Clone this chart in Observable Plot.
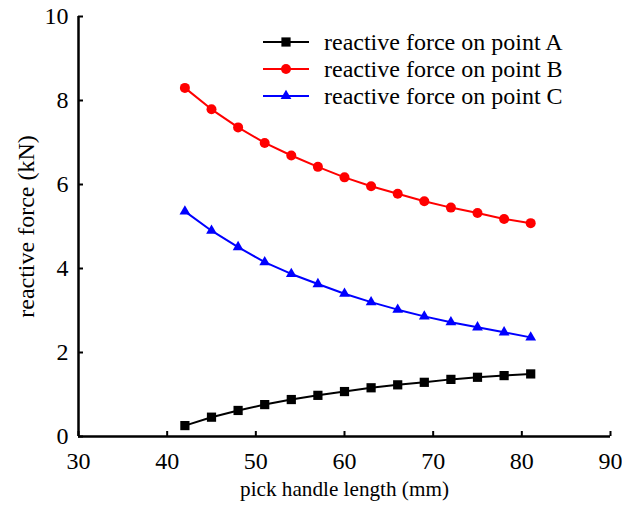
<!DOCTYPE html>
<html>
<head>
<meta charset="utf-8">
<script src="https://cdn.jsdelivr.net/npm/d3@7"></script>
<script src="https://cdn.jsdelivr.net/npm/@observablehq/plot@0.6"></script>
<style>
  html, body { margin: 0; padding: 0; background: #fff; }
  #chart { position: relative; width: 622px; height: 506px; }
</style>
</head>
<body>
<div id="chart"></div>
<script>
// Pick handle length (mm)
const handleLength = [42, 45, 48, 51, 54, 57, 60, 63, 66, 69, 72, 75, 78, 81];

// Reactive forces (kN) on each support point
const forceA = [0.26, 0.46, 0.62, 0.76, 0.88, 0.98, 1.07, 1.16, 1.23, 1.29, 1.36, 1.41, 1.45, 1.49];
const forceB = [8.30, 7.79, 7.36, 6.99, 6.69, 6.42, 6.17, 5.96, 5.78, 5.60, 5.45, 5.32, 5.18, 5.08];
const forceC = [5.36, 4.90, 4.51, 4.15, 3.87, 3.63, 3.40, 3.20, 3.02, 2.86, 2.72, 2.60, 2.48, 2.36];

const seriesNames = ["reactive force on point A", "reactive force on point B", "reactive force on point C"];
const seriesColors = ["#000000", "#ff0000", "#0000ff"];
const seriesSymbols = ["square", "circle", "triangle"];
const seriesR = [5.2, 5, 4];

const xTicks = [30, 40, 50, 60, 70, 80, 90];
const yTicks = [0, 2, 4, 6, 8, 10];

const xLabel = "pick handle length (mm)";
const yLabel = "reactive force (kN)";

const allForces = [forceA, forceB, forceC];
const rows = allForces.flatMap((vals, s) =>
  vals.map((v, i) => ({series: seriesNames[s], length: handleLength[i], force: v}))
);

const font = "'Liberation Serif', 'Times New Roman', serif";

const seriesMarks = seriesNames.flatMap((name, s) => {
  const data = rows.filter(d => d.series === name);
  return [
    Plot.line(data, {x: "length", y: "force", stroke: seriesColors[s], strokeWidth: 2}),
    Plot.dot(data, {x: "length", y: "force", fill: seriesColors[s], stroke: "none",
                    symbol: () => seriesSymbols[s], r: seriesR[s]})
  ];
});

const chart = Plot.plot({
  width: 622,
  height: 506,
  marginLeft: 78,
  marginRight: 12,
  marginTop: 16,
  marginBottom: 70,
  style: {fontFamily: font, fontSize: "24px", color: "#000", background: "#fff"},
  x: {domain: [30, 90]},
  y: {domain: [0, 10]},
  symbol: {type: "identity"},
  marks: [
    // axis lines
    Plot.ruleY([0], {stroke: "#000", strokeWidth: 2.5}),
    Plot.ruleX([30], {stroke: "#000", strokeWidth: 2.5}),
    // inward ticks
    Plot.axisX(xTicks, {tickSize: 5, dy: -5, text: null, strokeWidth: 2, label: null}),
    Plot.axisY(yTicks, {tickSize: 5, dx: 5, text: null, strokeWidth: 2, label: null}),
    // tick labels
    Plot.axisX(xTicks, {tickSize: 0, tickPadding: 15, label: null, fontSize: 24}),
    Plot.axisY(yTicks, {tickSize: 0, tickPadding: 10, label: null, fontSize: 24}),
    // axis titles
    Plot.text([xLabel], {frameAnchor: "bottom", dy: 59, fontSize: 21.2, lineAnchor: "bottom"}),
    Plot.text([yLabel], {frameAnchor: "left", textAnchor: "middle", dx: -52, rotate: -90, fontSize: 24}),
    ...seriesMarks
  ]
});

document.getElementById("chart").appendChild(chart);

// Legend drawn inside the chart's SVG, upper right
const svg = d3.select(chart);
const legend = svg.append("g")
  .attr("font-family", font)
  .attr("font-size", 24)
  .attr("text-anchor", "start");
seriesNames.forEach((name, i) => {
  const g = legend.append("g").attr("transform", `translate(263, ${42 + i * 27})`);
  g.append("line").attr("x1", 0).attr("x2", 46).attr("y1", 0).attr("y2", 0)
    .attr("stroke", seriesColors[i]).attr("stroke-width", 2);
  const symType = {square: d3.symbolSquare, circle: d3.symbolCircle, triangle: d3.symbolTriangle}[seriesSymbols[i]];
  g.append("path")
    .attr("transform", "translate(23, 0)")
    .attr("d", d3.symbol(symType, Math.PI * seriesR[i] * seriesR[i])())
    .attr("fill", seriesColors[i]);
  g.append("text").attr("x", 61).attr("y", 0).attr("dy", "0.32em")
    .attr("fill", "#000").text(name);
});
</script>
</body>
</html>
